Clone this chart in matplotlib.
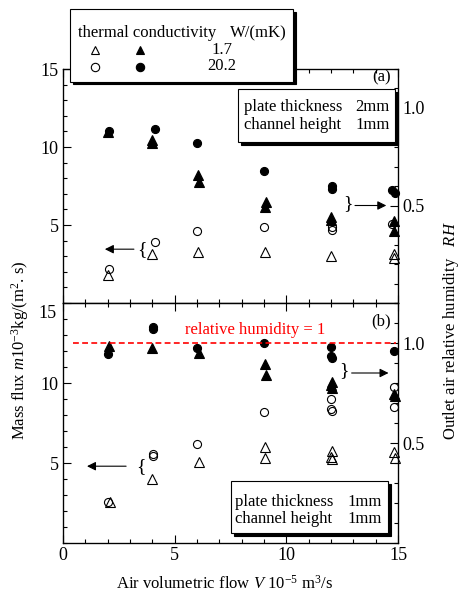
import matplotlib
matplotlib.use("Agg")
import matplotlib.pyplot as plt
from matplotlib.patches import Rectangle
from matplotlib.lines import Line2D
from matplotlib.ticker import MultipleLocator, FixedLocator

plt.rcParams['font.family'] = ['Liberation Serif', 'DejaVu Serif']
plt.rcParams['mathtext.fontset'] = 'custom'
plt.rcParams['mathtext.rm'] = 'Liberation Serif'
plt.rcParams['mathtext.it'] = 'Liberation Serif:italic'

# ---------------- panel (a): plate thickness 2mm ----------------
# open markers -> mass flux (left axis), filled markers -> RH (right axis)
a_tri_open_x = [2.0, 4.0, 6.05, 9.05, 12.0, 14.8, 14.8]
a_tri_open_m = [1.8, 3.13, 3.24, 3.24, 3.03, 3.17, 2.88]
a_circ_open_x = [2.05, 4.1, 6.0, 9.0, 12.05, 12.05, 14.75]
a_circ_open_m = [2.17, 3.88, 4.64, 4.85, 4.89, 4.68, 5.07]
a_tri_fill_x = [2.0, 4.0, 4.0, 6.05, 6.1, 9.1, 9.05, 12.0, 12.0, 14.8, 14.8]
a_tri_fill_rh = [0.878, 0.835, 0.82, 0.656, 0.622, 0.52, 0.49, 0.44, 0.425, 0.42, 0.37]
a_circ_fill_x = [2.05, 4.1, 6.0, 9.0, 12.05, 12.05, 14.75, 14.85]
a_circ_fill_rh = [0.884, 0.891, 0.819, 0.677, 0.60, 0.585, 0.579, 0.566]

# ---------------- panel (b): plate thickness 1mm ----------------
b_tri_open_x = [2.1, 4.0, 6.1, 9.05, 9.05, 12.05, 12.0, 12.05, 14.8, 14.85]
b_tri_open_m = [2.54, 3.98, 5.08, 6.02, 5.29, 5.77, 5.35, 5.25, 5.71, 5.29]
b_circ_open_x = [2.0, 4.05, 4.05, 6.0, 9.0, 12.0, 12.0, 12.05, 14.8, 14.8]
b_circ_open_m = [2.58, 5.56, 5.46, 6.19, 8.19, 9.0, 8.4, 8.27, 9.73, 8.48]
b_tri_fill_x = [2.05, 4.0, 6.1, 9.05, 9.1, 12.05, 12.0, 12.05, 14.8, 14.85]
b_tri_fill_rh = [0.985, 0.973, 0.952, 0.895, 0.838, 0.807, 0.79, 0.773, 0.745, 0.735]
b_circ_fill_x = [2.0, 4.05, 4.05, 6.0, 9.0, 12.0, 12.0, 12.05, 14.8]
b_circ_fill_rh = [0.945, 1.078, 1.068, 0.973, 0.998, 0.978, 0.935, 0.923, 0.962]

x_ticks = [0, 5, 10, 15]
m_ticks = [5, 10, 15]
rh_ticks = [0.5, 1.0]

W, H = 461, 595
fig = plt.figure(figsize=(W / 100, H / 100), dpi=100)

ax_a = fig.add_axes([63 / W, 1 - 303 / H, 335 / W, 234 / H])
ax_b = fig.add_axes([63 / W, 1 - 543 / H, 335 / W, 240 / H])

mk = dict(ls='none', color='black', mew=0.8, clip_on=False)
tri = dict(marker='^', ms=6.8)
circ = dict(marker='o', ms=5.8)


def setup(ax, rh_top):
    ax.set_xlim(0, 15)
    ax.set_ylim(0, 15)
    ax.xaxis.set_major_locator(FixedLocator(x_ticks))
    ax.xaxis.set_minor_locator(MultipleLocator(1))
    ax.yaxis.set_major_locator(FixedLocator(m_ticks))
    ax.yaxis.set_minor_locator(MultipleLocator(1))
    ax.tick_params(which='both', direction='in', top=True, right=False,
                   labelsize=13, pad=3, width=0.8)
    ax.tick_params(which='major', length=6)
    ax.tick_params(which='minor', length=3)
    for s in ax.spines.values():
        s.set_linewidth(0.9)
    axr = ax.twinx()
    axr.set_ylim(0, rh_top)
    axr.yaxis.set_major_locator(FixedLocator(rh_ticks))
    axr.yaxis.set_minor_locator(MultipleLocator(0.1))
    axr.tick_params(which='both', direction='in', labelsize=13, pad=3, width=0.8)
    axr.tick_params(which='major', length=6)
    axr.tick_params(which='minor', length=3)
    return axr


axr_a = setup(ax_a, 1.2)
axr_b = setup(ax_b, 1.2)
ax_a.tick_params(labelbottom=False)
ax_b.set_yticks(m_ticks, ['5', '10', ''])
ax_b.text(-0.02, 14.35, '15', ha='right', va='center', fontsize=13,
          transform=ax_b.get_yaxis_transform())

# markers
ax_a.plot(a_tri_open_x, a_tri_open_m, mfc='none', **tri, **mk)
ax_a.plot(a_circ_open_x, a_circ_open_m, mfc='none', **circ, **mk)
axr_a.plot(a_tri_fill_x, a_tri_fill_rh, mfc='black', **tri, **mk)
axr_a.plot(a_circ_fill_x, a_circ_fill_rh, mfc='black', **circ, **mk)

ax_b.plot(b_tri_open_x, b_tri_open_m, mfc='none', **tri, **mk)
ax_b.plot(b_circ_open_x, b_circ_open_m, mfc='none', **circ, **mk)
axr_b.plot(b_tri_fill_x, b_tri_fill_rh, mfc='black', **tri, **mk)
axr_b.plot(b_circ_fill_x, b_circ_fill_rh, mfc='black', **circ, **mk)

# relative humidity = 1 line
axr_b.axhline(1.0, xmin=0.03, xmax=0.995, color='red', lw=1.2, ls=(0, (3.5, 2)))
axr_b.text(8.6, 1.065, 'relative humidity = 1', color='red', fontsize=12,
           ha='center', va='center')

# arrows with braces
arr = dict(arrowstyle='-|>', color='black', lw=0.8, mutation_scale=13)
ax_a.annotate('', xy=(1.75, 3.45), xytext=(3.3, 3.45), arrowprops=arr)
ax_a.text(3.55, 3.4, '{', fontsize=14, ha='center', va='center')
axr_a.annotate('', xy=(14.6, 0.5), xytext=(12.95, 0.5), arrowprops=arr)
axr_a.text(12.75, 0.51, '}', fontsize=14, ha='center', va='center')

ax_b.annotate('', xy=(0.95, 4.8), xytext=(2.95, 4.8), arrowprops=arr)
ax_b.text(3.5, 4.75, '{', fontsize=14, ha='center', va='center')
axr_b.annotate('', xy=(14.7, 0.85), xytext=(12.8, 0.85), arrowprops=arr)
axr_b.text(12.6, 0.86, '}', fontsize=14, ha='center', va='center')

ax_a.text(0.98, 0.966, '(a)', transform=ax_a.transAxes, ha='right', va='center', fontsize=12)
ax_b.text(0.98, 0.922, '(b)', transform=ax_b.transAxes, ha='right', va='center', fontsize=12)


# boxes with drop shadow, positioned in figure pixels
def shadow_box(x0, y0, x1, y1, off=3):
    for dx, fc in ((off, 'black'), (0, 'white')):
        fig.add_artist(Rectangle(((x0 + dx) / W, 1 - (y1 + dx) / H),
                                 (x1 - x0) / W, (y1 - y0) / H,
                                 transform=fig.transFigure, facecolor=fc,
                                 edgecolor='black', lw=0.8, zorder=10))


def ftext(x, y, s, **kw):
    fig.text(x / W, 1 - y / H, s, va='center', fontsize=12, zorder=11, **kw)


shadow_box(70, 9, 293, 81.5)
ftext(78, 33, 'thermal conductivity', ha='left')
ftext(287, 33, 'W/(mK)', ha='right')
ftext(222, 49.5, '1.7', ha='center')
ftext(222, 66.5, '20.2', ha='center')
for px, py, m, fc in [(95, 49.5, '^', 'none'), (140, 49.5, '^', 'black'),
                      (95, 66.5, 'o', 'none'), (140, 66.5, 'o', 'black')]:
    fig.add_artist(Line2D([px / W], [1 - py / H], transform=fig.transFigure,
                          marker=m, ms=6, mfc=fc, mec='black', mew=0.8,
                          ls='none', zorder=11))

shadow_box(238, 89, 395, 141.5)
ftext(244, 107, 'plate thickness', ha='left')
ftext(389, 107, '2mm', ha='right')
ftext(244, 125, 'channel height', ha='left')
ftext(390, 125, '1mm', ha='right')

shadow_box(231, 481, 388, 533)
ftext(235, 501.5, 'plate thickness', ha='left')
ftext(382, 501.5, '1mm', ha='right')
ftext(235, 519, 'channel height', ha='left')
ftext(382, 519, '1mm', ha='right')

# axis labels
fig.text(224 / W, 1 - 584 / H, r'Air volumetric flow $V$ 10$^{-5}$ m$^{3}$/s',
         ha='center', va='center', fontsize=12)
fig.text(20 / W, 1 - 350 / H, r'Mass flux $m$10$^{-3}$kg/(m$^{2}$. s)',
         ha='center', va='center', rotation=90, fontsize=12)
fig.text(451 / W, 1 - 331 / H, r'Outlet air relative humidity   $RH$',
         ha='center', va='center', rotation=90, fontsize=12)

fig.savefig('out.png', dpi=100)
